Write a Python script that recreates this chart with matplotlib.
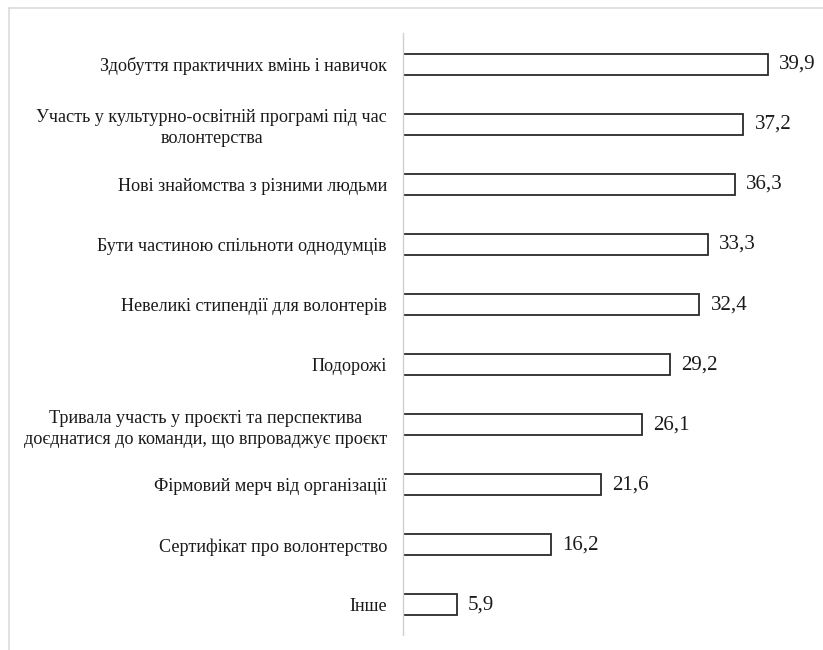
import matplotlib
matplotlib.use("Agg")
from matplotlib import pyplot as plt
from matplotlib.lines import Line2D

categories = [
    "Здобуття практичних вмінь і навичок",
    "Участь у культурно-освітній програмі під час\nволонтерства",
    "Нові знайомства з різними людьми",
    "Бути частиною спільноти однодумців",
    "Невеликі стипендії для волонтерів",
    "Подорожі",
    "Тривала участь у проєкті та перспектива\nдоєднатися до команди, що впроваджує проєкт",
    "Фірмовий мерч від організації",
    "Сертифікат про волонтерство",
    "Інше",
]
values = [39.9, 37.2, 36.3, 33.3, 32.4, 29.2, 26.1, 21.6, 16.2, 5.9]
value_labels = ["39,9", "37,2", "36,3", "33,3", "32,4", "29,2", "26,1", "21,6", "16,2", "5,9"]

plt.rcParams['font.family'] = ['Liberation Serif', 'DejaVu Serif']

fig = plt.figure(figsize=(8.23, 6.5), dpi=100)
W, H = 823, 650
ax = fig.add_axes([403 / W, 1 - 635 / H, 400 / W, (635 - 33) / H])

pos = list(range(len(categories)))
bars = ax.barh(pos, values, height=0.35, color='white', edgecolor='#2a2a2a', linewidth=1.3)

ax.set_ylim(len(categories) - 0.5, -0.52)
ax.set_xlim(0, 400 / 9.15)

ax.set_yticks(pos)
ax.set_yticklabels(categories, fontsize=13.1, color='#1a1a1a', multialignment='center',
                   linespacing=1.3)
ax.tick_params(axis='y', length=0, pad=11.5)
ax.xaxis.set_visible(False)

for s in ['top', 'right', 'bottom']:
    ax.spines[s].set_visible(False)
ax.spines['left'].set_color('#d0d0d0')
ax.spines['left'].set_linewidth(1.0)

for b, txt in zip(bars, value_labels):
    ax.annotate(txt, (b.get_width(), b.get_y() + b.get_height() / 2),
                xytext=(8, 0), textcoords='offset points',
                va='center', ha='left', fontsize=15, color='#1a1a1a')

# light frame around the picture (top and left edges visible)
fig.add_artist(Line2D([9 / W, 1], [1 - 8 / H, 1 - 8 / H], transform=fig.transFigure,
                      color='#dcdcdc', linewidth=1.2))
fig.add_artist(Line2D([9 / W, 9 / W], [0, 1 - 8 / H], transform=fig.transFigure,
                      color='#dcdcdc', linewidth=1.2))

fig.savefig("out.png", dpi=100)
